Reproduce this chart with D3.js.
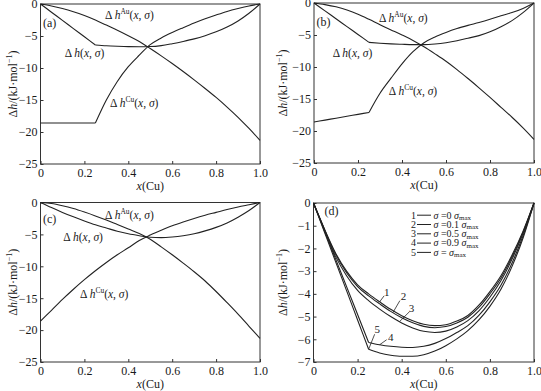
<!DOCTYPE html>
<html>
<head>
<meta charset="utf-8">
<script src="https://d3js.org/d3.v7.min.js"></script>
<style>
  body { margin: 0; background: #fff; }
  svg { display: block; }
  text { font-family: "Liberation Serif", "Times New Roman", serif; fill: #1a1a1a; }
</style>
</head>
<body>
<svg id="chart" width="541" height="391"></svg>
<script>
// composition grid, x(Cu)
var xCu = [0, 0.05, 0.1, 0.15, 0.2, 0.25, 0.3, 0.35, 0.4, 0.45, 0.5, 0.55, 0.6, 0.65, 0.7, 0.75, 0.8, 0.85, 0.9, 0.95, 1];

// (a)
var aHAu = [0, -0.3, -0.7, -1.2, -1.8, -2.5, -3.3, -4.1, -4.95, -5.85, -6.95, -8.1, -9.3, -10.55, -11.85, -13.2, -14.6, -16.1, -17.7, -19.45, -21.3];
var aHCu = [-18.6, -18.6, -18.6, -18.6, -18.6, -18.6, -15.0, -12.1, -9.8, -8.0, -6.35, -5.3, -4.45, -3.7, -2.98, -2.32, -1.72, -1.16, -0.7, -0.3, 0];
var aH   = [0, -1.28, -2.56, -3.84, -5.12, -6.4, -6.52, -6.6, -6.66, -6.68, -6.65, -6.5, -6.2, -5.85, -5.45, -4.95, -4.35, -3.6, -2.65, -1.45, 0];

// (b)
var bHAu = [0, -0.25, -0.6, -1.1, -1.75, -2.55, -3.4, -4.2, -5.0, -5.85, -6.85, -7.95, -9.1, -10.4, -11.8, -13.25, -14.75, -16.3, -17.85, -19.5, -21.3];
var bHCu = [-18.6, -18.3, -18.0, -17.7, -17.4, -17.1, -14.1, -11.75, -9.5, -7.6, -6.2, -5.3, -4.6, -4.0, -3.5, -3.05, -2.55, -2.0, -1.5, -0.85, 0];
var bH   = [0, -1.23, -2.46, -3.69, -4.92, -6.15, -6.28, -6.38, -6.45, -6.5, -6.5, -6.4, -6.2, -5.9, -5.5, -5.1, -4.5, -3.7, -2.75, -1.5, 0];

// (c)
var cHAu = [0, -0.15, -0.5, -0.95, -1.5, -2.1, -2.75, -3.45, -4.15, -4.85, -5.75, -6.95, -8.2, -9.5, -10.85, -12.3, -13.95, -15.7, -17.5, -19.4, -21.3];
var cHCu = [-18.6, -16.9, -15.2, -13.6, -12.1, -10.7, -9.4, -8.2, -7.1, -5.95, -5.1, -4.35, -3.65, -3.05, -2.5, -2.0, -1.55, -1.1, -0.7, -0.35, 0];
var cH   = [0, -0.8, -1.55, -2.25, -2.9, -3.5, -4.0, -4.5, -4.9, -5.2, -5.45, -5.5, -5.4, -5.2, -4.9, -4.45, -3.9, -3.2, -2.3, -1.25, 0];

// (d) delta h for several sigma
var hSig1 = [0, -1.15, -2.2, -3.0, -3.6, -4.0, -4.35, -4.68, -4.96, -5.18, -5.34, -5.4, -5.36, -5.2, -4.95, -4.5, -3.9, -3.2, -2.3, -1.25, 0];
var hSig2 = [0, -1.17, -2.25, -3.07, -3.68, -4.09, -4.44, -4.77, -5.05, -5.27, -5.43, -5.49, -5.44, -5.28, -5.03, -4.6, -4.0, -3.3, -2.38, -1.3, 0];
var hSig3 = [0, -1.2, -2.35, -3.2, -3.85, -4.3, -4.67, -5.0, -5.28, -5.5, -5.65, -5.7, -5.64, -5.46, -5.18, -4.75, -4.15, -3.42, -2.48, -1.35, 0];
var hSig4 = [0, -1.23, -2.46, -3.68, -4.91, -6.14, -6.24, -6.31, -6.35, -6.36, -6.31, -6.18, -5.97, -5.7, -5.4, -4.95, -4.35, -3.62, -2.65, -1.45, 0];
var hSig5 = [0, -1.29, -2.58, -3.86, -5.15, -6.44, -6.6, -6.7, -6.75, -6.75, -6.68, -6.52, -6.28, -5.98, -5.62, -5.15, -4.55, -3.8, -2.8, -1.55, 0];

var curveTags = ["1", "2", "3", "4", "5"];
var tagAt = [0.3, 0.36, 0.39, 0.3, 0.25];
var sigmaCoef = ["0", "0.1", "0.5", "0.9", ""];

var xTicks = [0, 0.2, 0.4, 0.6, 0.8, 1.0];
var yTicksH = [0, -5, -10, -15, -20, -25];
var yTicksD = [0, -1, -2, -3, -4, -5, -6, -7];
var panelNames = ["(a)", "(b)", "(c)", "(d)"];

var KINK = 5; // index of x = 0.25

var svg = d3.select("#chart");
var INK = "#222";

function drawPanel(p) {
  var g = svg.append("g");
  var x = d3.scaleLinear().domain([0, 1]).range([p.l, p.r]);
  var y = d3.scaleLinear().domain([p.ymin, 0]).range([p.b, p.t]);

  var xa = g.append("g")
    .attr("transform", "translate(0," + p.b + ")")
    .call(d3.axisBottom(x).tickValues(xTicks).tickSize(-3).tickPadding(4)
      .tickFormat(function(d) { return d === 0 ? "0" : d3.format(".1f")(d); }));
  var ya = g.append("g")
    .attr("transform", "translate(" + p.l + ",0)")
    .call(d3.axisLeft(y).tickValues(p.yticks).tickSize(-3).tickPadding(3)
      .tickFormat(d3.format("d")));
  [xa, ya].forEach(function(a) {
    a.select(".domain").remove();
    a.selectAll("line").attr("stroke", "#333");
    a.selectAll("text").attr("font-size", 12).attr("fill", "#1a1a1a")
      .style("font-family", "'Liberation Serif', 'Times New Roman', serif");
  });

  g.append("rect")
    .attr("x", p.l).attr("y", p.t)
    .attr("width", p.r - p.l).attr("height", p.b - p.t)
    .attr("fill", "none").attr("stroke", "#333").attr("stroke-width", 1);

  var line = d3.line()
    .x(function(d) { return x(d[0]); })
    .y(function(d) { return y(d[1]); })
    .curve(d3.curveMonotoneX);

  p.series.forEach(function(s) {
    var pts = xCu.map(function(v, i) { return [v, s.v[i]]; });
    var parts = s.kink ? [pts.slice(0, KINK + 1), pts.slice(KINK)] : [pts];
    parts.forEach(function(part) {
      g.append("path")
        .attr("d", line(part))
        .attr("fill", "none")
        .attr("stroke", INK)
        .attr("stroke-width", 1.1);
    });
  });

  // panel name
  g.append("text").attr("x", p.l + p.nameDx).attr("y", p.nameY)
    .attr("font-size", 12).attr("fill", "#1a1a1a").text(p.name);

  // x label
  var xl = g.append("text")
    .attr("x", (p.l + p.r) / 2).attr("y", p.b + 26)
    .attr("text-anchor", "middle").attr("font-size", 12);
  xl.append("tspan").attr("font-style", "italic").text("x");
  xl.append("tspan").text("(Cu)");

  // y label
  var yl = g.append("text")
    .attr("transform", "translate(" + p.ylabX + "," + ((p.t + p.b) / 2) + ") rotate(-90)")
    .attr("text-anchor", "middle").attr("dy", "0.35em").attr("font-size", 12);
  yl.append("tspan").text("\u0394");
  yl.append("tspan").attr("font-style", "italic").text("h");
  yl.append("tspan").text("/(kJ\u00b7mol");
  yl.append("tspan").attr("font-size", 8).attr("dy", -5).text("\u22121");
  yl.append("tspan").attr("dy", 5).text(")");

  return {g: g, x: x, y: y};
}

function dhLabel(g, px, py, sup) {
  var t = g.append("text").attr("x", px).attr("y", py).attr("font-size", 11.5);
  t.append("tspan").text("\u0394 ");
  t.append("tspan").attr("font-style", "italic").text("h");
  if (sup) {
    t.append("tspan").attr("font-size", 7.5).attr("dy", -5).text(sup);
    t.append("tspan").attr("dy", 5).text("(");
  } else {
    t.append("tspan").text("(");
  }
  t.append("tspan").attr("font-style", "italic").text("x");
  t.append("tspan").text(", ");
  t.append("tspan").attr("font-style", "italic").text("\u03c3");
  t.append("tspan").text(")");
}

// (a)
var pa = drawPanel({l: 40.5, r: 260, t: 4, b: 164, ymin: -25, yticks: yTicksH,
  name: panelNames[0], nameDx: 2.5, nameY: 27, ylabX: 13,
  series: [{v: aHAu}, {v: aHCu, kink: true}, {v: aH, kink: true}]});
dhLabel(pa.g, pa.x(0.294), pa.y(-2.4), "Au");
dhLabel(pa.g, pa.x(0.11), pa.y(-8.3), null);
dhLabel(pa.g, pa.x(0.317), pa.y(-16.05), "Cu");

// (b)
var pb = drawPanel({l: 314, r: 534, t: 3, b: 163, ymin: -25, yticks: yTicksH,
  name: panelNames[1], nameDx: 2.5, nameY: 26, ylabX: 283,
  series: [{v: bHAu}, {v: bHCu, kink: true}, {v: bH, kink: true}]});
dhLabel(pb.g, pb.x(0.295), pb.y(-2.97), "Au");
dhLabel(pb.g, pb.x(0.085), pb.y(-8.44), null);
dhLabel(pb.g, pb.x(0.34), pb.y(-14.45), "Cu");

// (c)
var pc = drawPanel({l: 40.5, r: 260, t: 202.5, b: 362, ymin: -25, yticks: yTicksH,
  name: panelNames[2], nameDx: 2.5, nameY: 223, ylabX: 13,
  series: [{v: cHAu}, {v: cHCu}, {v: cH}]});
dhLabel(pc.g, pc.x(0.294), pc.y(-2.62), "Au");
dhLabel(pc.g, pc.x(0.104), pc.y(-5.99), null);
dhLabel(pc.g, pc.x(0.18), pc.y(-15.0), "Cu");

// (d)
var dSeries = [hSig1, hSig2, hSig3, hSig4, hSig5];
var pd = drawPanel({l: 313.5, r: 534, t: 203, b: 362, ymin: -7, yticks: yTicksD,
  name: panelNames[3], nameDx: 11, nameY: 215, ylabX: 283,
  series: dSeries.map(function(v, i) { return {v: v, kink: i >= 3}; })});

// numbered leaders on the curves
var leaderOff = [[4.5, -6, 7, -10], [7, -12, 10.5, -16], [10, -10, 12, -13.5], [7, -5, 11, -8], [6, -15, 8.5, -20.5]];
curveTags.forEach(function(tag, i) {
  var interp = d3.scaleLinear().domain(xCu).range(dSeries[i]);
  var cx = pd.x(tagAt[i]), cy = pd.y(interp(tagAt[i]));
  var o = leaderOff[i];
  pd.g.append("line")
    .attr("x1", cx).attr("y1", cy).attr("x2", cx + o[0]).attr("y2", cy + o[1])
    .attr("stroke", INK).attr("stroke-width", 0.8);
  pd.g.append("text").attr("x", cx + o[2]).attr("y", cy + o[3])
    .attr("text-anchor", "middle").attr("dy", "0.35em").attr("font-size", 11).text(tag);
});

// legend
var lg = pd.g.append("g");
curveTags.forEach(function(tag, i) {
  var by = 218.5 + i * 9.3;
  lg.append("text").attr("x", 411).attr("y", by).attr("font-size", 10).text(tag);
  lg.append("line").attr("x1", 417).attr("x2", 431).attr("y1", by - 3.3).attr("y2", by - 3.3)
    .attr("stroke", INK).attr("stroke-width", 1);
  var t = lg.append("text").attr("x", 433.5).attr("y", by).attr("font-size", 10);
  t.append("tspan").attr("font-style", "italic").text("\u03c3");
  t.append("tspan").text(sigmaCoef[i] === "" ? " = " : " =" + sigmaCoef[i] + " ");
  t.append("tspan").attr("font-style", "italic").text("\u03c3");
  t.append("tspan").attr("font-size", 7).attr("dy", 1.5).text("max");
});
</script>
</body>
</html>
